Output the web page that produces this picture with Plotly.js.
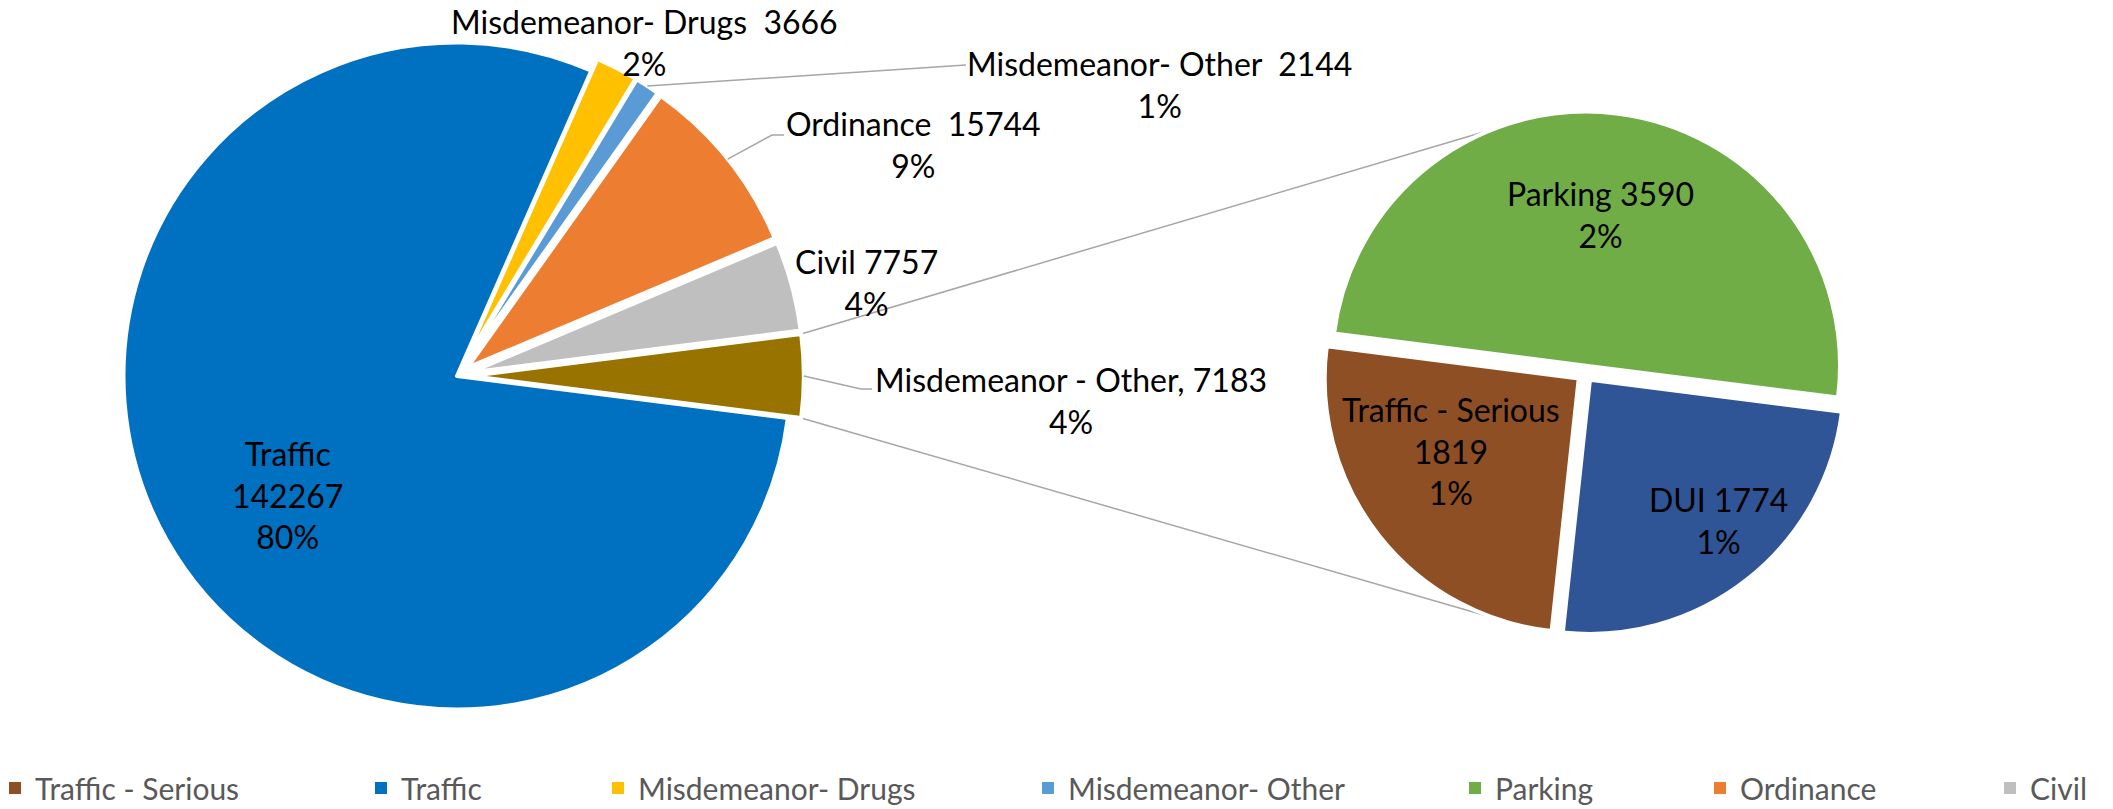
<!DOCTYPE html>
<html><head><meta charset="utf-8">
<script src="https://cdn.plot.ly/plotly-3.0.1.min.js"></script>
<style>html,body{margin:0;padding:0;background:#fff}#chart{width:2113px;height:809px}</style>
</head><body><div id="chart"></div>
<script>
// ---- data ----
const mainLabels = ['Traffic', 'Misdemeanor- Drugs', 'Misdemeanor- Other', 'Ordinance', 'Civil', 'Misdemeanor - Other'];
const mainValues = [142267, 3666, 2144, 15744, 7757, 7183];
const mainColors = ['#0070C0', '#FFC000', '#5B9BD5', '#ED7D31', '#BFBFBF', '#997300'];
const mainSeps = ['<br>', ' \u00a0', ' \u00a0', ' \u00a0', ' ', ', '];

const secondLabels = ['Parking', 'DUI', 'Traffic - Serious'];
const secondValues = [3590, 1774, 1819];
const secondColors = ['#70AD47', '#2F5597', '#8F4F24'];
const secondSeps = [' ', ' ', '<br>'];

const legendLabels = ['Traffic - Serious', 'Traffic', 'Misdemeanor- Drugs', 'Misdemeanor- Other', 'Parking', 'Ordinance', 'Civil'];
const legendColors = ['#8F4F24', '#0070C0', '#FFC000', '#5B9BD5', '#70AD47', '#ED7D31', '#BFBFBF'];

// ---- layout configuration (positions in px) ----
const W = 2113, H = 809;
const cfg = {
  main: {cx: 457, cy: 376, r: 333.5, pull: [0, 0.04, 0.04, 0.04, 0.04, 0.04]},
  second: {cx: 1585, cy: 373.6, r: 254, pull: [0.0315, 0.0315, 0.0315], rotation: -82.7},
  mainLabelPos: [[287, 495], [644, 43], [1159, 84], [913, 144], [866, 282], [1071, 400]],
  secondLabelPos: [[1600, 214], [1718, 520], [1451, 451]],
  leaders: [
    {i: 2, frac: 0.5, pts: [[966, 65]]},
    {i: 3, frac: 0.5, pts: [[772, 135], [784, 135]]},
    {i: 5, frac: 0.5, pts: [[861, 389], [872, 389]]}
  ],
  connectors: {topAngle: -21.5, bottomAngle: 199.5},
  legendX: [15, 381, 618, 1048, 1475, 1720, 2010],
  legendY: 788,
  labelFont: {family: 'Lato, sans-serif', size: 32, color: '#000000'},
  legendFont: {family: 'Lato, sans-serif', size: 30, color: '#595959'}
};

const px = x => x / W;
const py = y => 1 - y / H;
const grand = mainValues.reduce((a, b) => a + b, 0);
const pct = v => Math.round(v / grand * 100) + '%';
const rad = d => d * Math.PI / 180;

function domainFor(c) {
  const maxPull = Math.max.apply(null, c.pull);
  const half = c.r * (1 + maxPull);
  return {x: [px(c.cx - half), px(c.cx + half)], y: [py(c.cy + half), py(c.cy - half)]};
}

const mainRotation = 90 + 180 * mainValues[mainValues.length - 1] / grand;

function sliceAngles(values, rotation) {
  const tot = values.reduce((a, b) => a + b, 0);
  let cum = 0;
  return values.map(v => {
    const s = rotation + 360 * cum / tot;
    cum += v;
    const e = rotation + 360 * cum / tot;
    return {s: s, e: e, m: (s + e) / 2};
  });
}
const mainAng = sliceAngles(mainValues, mainRotation);
const secAng = sliceAngles(secondValues, cfg.second.rotation);

function edgePoint(c, ang, i, a) {
  const p = c.pull[i] * c.r;
  const ox = c.cx + p * Math.sin(rad(ang[i].m));
  const oy = c.cy - p * Math.cos(rad(ang[i].m));
  return [ox + c.r * Math.sin(rad(a)), oy - c.r * Math.cos(rad(a))];
}

const traces = [
  {
    type: 'pie', labels: mainLabels, values: mainValues, sort: false, direction: 'clockwise',
    rotation: mainRotation, pull: cfg.main.pull, domain: domainFor(cfg.main),
    marker: {colors: mainColors, line: {color: '#FFFFFF', width: 4}},
    textinfo: 'none', hoverinfo: 'label+value', showlegend: false
  },
  {
    type: 'pie', labels: secondLabels, values: secondValues, sort: false, direction: 'clockwise',
    rotation: cfg.second.rotation, pull: cfg.second.pull, domain: domainFor(cfg.second),
    marker: {colors: secondColors, line: {color: '#FFFFFF', width: 4}},
    textinfo: 'none', hoverinfo: 'label+value', showlegend: false
  }
];

const layout = {
  width: W, height: H,
  margin: {l: 0, r: 0, t: 0, b: 0, autoexpand: false},
  paper_bgcolor: '#FFFFFF', plot_bgcolor: 'rgba(0,0,0,0)',
  xaxis: {visible: false}, yaxis: {visible: false},
  annotations: [], shapes: []
};

// labels
mainLabels.forEach((l, i) => {
  const t = (i === 0 ? l + '<br>' + mainValues[i] : l + mainSeps[i] + mainValues[i]) + '<br>' + pct(mainValues[i]);
  const p = cfg.mainLabelPos[i];
  layout.annotations.push({x: px(p[0]), y: py(p[1]), xref: 'paper', yref: 'paper', text: t,
    showarrow: false, xanchor: 'center', yanchor: 'middle', align: 'center', font: cfg.labelFont});
});
secondLabels.forEach((l, i) => {
  const t = l + secondSeps[i] + secondValues[i] + '<br>' + pct(secondValues[i]);
  const p = cfg.secondLabelPos[i];
  layout.annotations.push({x: px(p[0]), y: py(p[1]), xref: 'paper', yref: 'paper', text: t,
    showarrow: false, xanchor: 'center', yanchor: 'middle', align: 'center', font: cfg.labelFont});
});

// leader lines
cfg.leaders.forEach(ld => {
  const a = mainAng[ld.i].s + ld.frac * (mainAng[ld.i].e - mainAng[ld.i].s);
  const st = edgePoint(cfg.main, mainAng, ld.i, a);
  let path = 'M ' + px(st[0]) + ' ' + py(st[1]);
  ld.pts.forEach(q => { path += ' L ' + px(q[0]) + ' ' + py(q[1]); });
  layout.shapes.push({type: 'path', xref: 'paper', yref: 'paper', path: path,
    line: {color: '#A6A6A6', width: 1.5}});
});

// connector lines between the pies
const oi = mainValues.length - 1;
const oTop = edgePoint(cfg.main, mainAng, oi, mainAng[oi].s);
const oBot = edgePoint(cfg.main, mainAng, oi, mainAng[oi].e);
const sTop = edgePoint(cfg.second, secAng, 0, cfg.connectors.topAngle);
const sBot = edgePoint(cfg.second, secAng, 2, cfg.connectors.bottomAngle);
[[oTop, sTop], [oBot, sBot]].forEach(seg => {
  layout.shapes.push({type: 'line', xref: 'paper', yref: 'paper',
    x0: px(seg[0][0]), y0: py(seg[0][1]), x1: px(seg[1][0]), y1: py(seg[1][1]),
    line: {color: '#A6A6A6', width: 1.5}, layer: 'below'});
});

// legends
legendLabels.forEach((l, i) => {
  const key = i === 0 ? 'legend' : 'legend' + (i + 1);
  traces.push({type: 'scatter', mode: 'markers', x: [null], y: [null], name: l,
    marker: {symbol: 'square', size: 12, color: legendColors[i]}, legend: key, hoverinfo: 'skip'});
  layout[key] = {x: px(cfg.legendX[i] - 20), y: py(cfg.legendY), xanchor: 'left', yanchor: 'middle',
    orientation: 'h', font: cfg.legendFont, bgcolor: 'rgba(0,0,0,0)', borderwidth: 0, itemclick: false, itemdoubleclick: false};
});

Plotly.newPlot('chart', traces, layout, {displayModeBar: false});
</script>
</body></html>
